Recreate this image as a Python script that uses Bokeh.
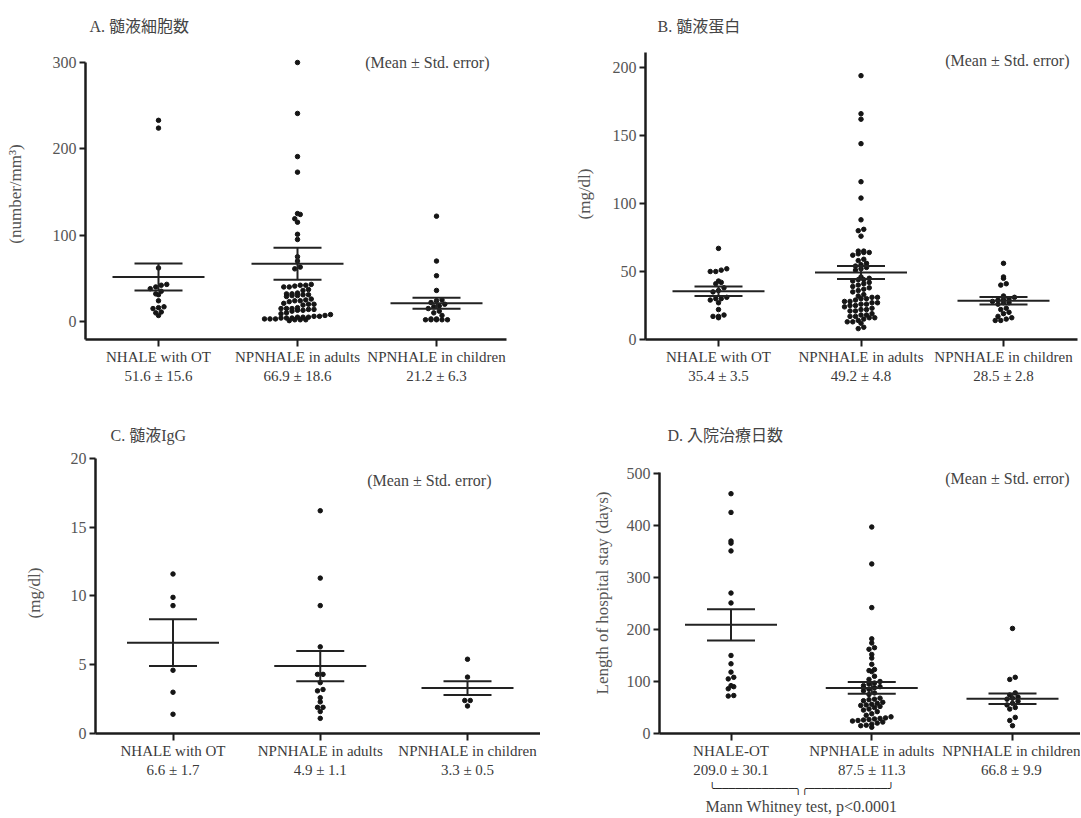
from bokeh.plotting import figure
from bokeh.models import FixedTicker, Label, LinearAxis, Range1d, Title
from bokeh.layouts import column, row
from bokeh.embed import file_html
from bokeh.resources import INLINE

# ---------------- data ----------------
groups_ABC = ["NHALE with OT", "NPNHALE in adults", "NPNHALE in children"]
groups_D = ["NHALE-OT", "NPNHALE in adults", "NPNHALE in children"]

A_title = "A. 髄液細胞数"
A_ylabel = "(number/mm³)"
A_ticks = [0, 100, 200, 300]
A_mean = [51.6, 66.9, 21.2]
A_se = [15.6, 18.6, 6.3]
A_ot = [233, 224, 62, 43, 42, 40, 38, 35, 32, 31, 24, 17, 16, 15, 11, 10, 7]
A_adults = [300, 241, 191, 173, 125, 124, 119, 115, 101, 95, 75, 70, 63, 61,
            43, 42, 42, 41, 40, 40, 37, 36, 33, 32, 32, 31, 31, 30, 30, 29,
            26, 25, 24, 24, 23, 21, 20, 20, 19, 16, 15, 15, 15, 14, 14, 13, 13, 12,
            10, 9, 8, 7, 6, 6, 5, 5, 5, 4, 4, 4, 3, 3, 3, 2, 2, 2, 1]
A_children = [122, 70, 53, 36, 25, 24, 22, 20, 18, 17, 15, 12, 10, 7, 3, 3, 2, 2, 2, 2, 2]

B_title = "B. 髄液蛋白"
B_ylabel = "(mg/dl)"
B_ticks = [0, 50, 100, 150, 200]
B_mean = [35.4, 49.2, 28.5]
B_se = [3.5, 4.8, 2.8]
B_ot = [67, 52, 51, 50, 50, 43, 42, 41, 38, 36, 35, 31, 30, 30, 29, 27, 22, 18, 17, 17, 16]
B_adults = [194, 166, 162, 144, 116, 104, 88, 81, 80, 76, 65, 65, 64, 64, 63, 62,
            59, 58, 56, 55, 54, 53, 52, 51, 46, 45, 44, 44, 43, 42, 41, 40, 39, 38,
            37, 36, 35, 33, 32, 31, 31, 30, 30, 29, 28, 28, 27, 27, 26, 26, 25, 25,
            24, 23, 22, 22, 21, 21, 19, 18, 18, 17, 17, 16, 16, 15, 14, 13, 13, 12, 9, 8]
B_children = [56, 46, 45, 41, 40, 32, 31, 30, 30, 29, 28, 27, 27, 26, 23, 22, 20, 19, 17, 16, 15, 14, 14]

C_title = "C. 髄液IgG"
C_ylabel = "(mg/dl)"
C_ticks = [0, 5, 10, 15, 20]
C_mean = [6.6, 4.9, 3.3]
C_se = [1.7, 1.1, 0.5]
C_ot = [11.6, 9.9, 9.3, 4.6, 3.0, 1.4]
C_adults = [16.2, 11.3, 9.3, 6.3, 4.3, 4.3, 3.7, 3.2, 3.1, 2.6, 2.3, 1.9, 1.9, 1.6, 1.1]
C_children = [5.4, 4.1, 2.4, 2.4, 2.0]

D_title = "D. 入院治療日数"
D_ylabel = "Length of hospital stay (days)"
D_ticks = [0, 100, 200, 300, 400, 500]
D_mean = [209.0, 87.5, 66.8]
D_se = [30.1, 11.3, 9.9]
D_ot = [461, 425, 370, 366, 351, 270, 251, 150, 134, 118, 108, 105, 92, 90, 86, 73, 72]
D_adults = [397, 326, 242, 182, 174, 165, 162, 152, 145, 133, 123, 121, 119, 110, 104,
            100, 97, 95, 92, 90, 88, 85, 82, 78, 75, 68, 66, 65, 63, 60, 58, 56, 55,
            54, 52, 50, 47, 45, 42, 38, 35, 32, 30, 29, 28, 27, 26, 25, 24, 22, 20,
            18, 16, 15, 12]
D_children = [202, 108, 104, 78, 74, 70, 68, 66, 62, 58, 55, 50, 47, 31, 25, 15]
D_test = "Mann Whitney test, p<0.0001"
D_test_groups = [1, 2]   # the groups compared by the test

note_text = "(Mean ± Std. error)"

# ---------------- styling / layout ----------------
SERIF = "Liberation Serif"
CJK = "Liberation Serif, Noto Sans CJK JP"
AXIS_COLOR = "#1c1c1c"
TEXT_COLOR = "#444444"
DOT_COLOR = "#151515"
BAR_COLOR = "#222222"


def swarm(values, center, sx, sy, row_px=5.0, gap_px=5.5):
    rows = {}
    for v in sorted(values):
        rows.setdefault(int(round(v * sy / row_px)), []).append(v)
    xs, ys = [], []
    for k in sorted(rows):
        vs = rows[k]
        n = len(vs)
        for i, v in enumerate(vs):
            xs.append(center + (i - (n - 1) / 2.0) * gap_px / sx)
            ys.append(v)
    return xs, ys


def make_panel(geo, names, means, ses, series, ticks, ylabel, title, lab_standoff):
    ox, oy, W, H = geo["fig"]
    L, R, T, B = geo["left"], geo["right"], geo["top"], geo["bottom"]
    (v0, q0), (v1, q1) = geo["ref"]
    c1, c3 = geo["cats"]
    s = (c3 - c1) / 2.0
    x0 = 1 - (c1 - L) / s
    x1 = 3 + (R - c3) / s
    sy = (q0 - q1) / float(v1 - v0)
    y_bot = v0 - (B - q0) / sy
    y_top = y_bot + (B - T) / sy
    y_axis_top = v0 + (q0 - geo["axis_top"]) / sy

    def X(px):
        return x0 + (px - L) / s

    def Y(py):
        return y_bot + (B - py) / sy

    p = figure(width=W, height=H, x_range=Range1d(x0, x1), y_range=Range1d(y_bot, y_top),
               output_backend="svg", toolbar_location=None, title=None,
               min_border_left=L - ox, min_border_right=ox + W - R,
               min_border_top=T - oy, min_border_bottom=oy + H - B)
    p.outline_line_color = None
    p.xgrid.visible = False
    p.ygrid.visible = False
    p.background_fill_color = "white"
    p.border_fill_color = "white"

    for ax in (p.xaxis[0], p.yaxis[0]):
        ax.axis_line_width = 2.5
        ax.axis_line_color = AXIS_COLOR
        ax.major_tick_line_color = AXIS_COLOR
        ax.major_tick_line_width = 2
        ax.major_tick_in = 0
        ax.minor_tick_line_color = None
    cats = [1, 2, 3]
    p.xaxis.ticker = FixedTicker(ticks=cats)
    overrides = {}
    for c, n, m, e in zip(cats, names, means, ses):
        lab = f"{n}\n{m:.1f} ± {e:.1f}"
        overrides[c] = lab
        overrides[str(c)] = lab
    p.xaxis.major_label_overrides = overrides
    p.xaxis.major_tick_out = 7
    p.xaxis.major_label_standoff = 2
    p.xaxis.major_label_text_font = SERIF
    p.xaxis.major_label_text_font_size = "15px"
    p.xaxis.major_label_text_color = "#3a3a3a"

    p.yaxis.bounds = (y_bot, y_axis_top)
    p.yaxis.ticker = FixedTicker(ticks=ticks)
    p.yaxis.major_tick_out = 6
    p.yaxis.major_label_standoff = 3
    p.yaxis.major_label_text_font = SERIF
    p.yaxis.major_label_text_font_size = "16px"
    p.yaxis.major_label_text_color = "#555555"
    p.yaxis.axis_label = ylabel
    p.yaxis.axis_label_text_font = SERIF
    p.yaxis.axis_label_text_font_size = "17px"
    p.yaxis.axis_label_text_font_style = "normal"
    p.yaxis.axis_label_text_color = "#555555"
    p.yaxis.axis_label_standoff = lab_standoff

    for c, vals in zip(cats, series):
        xs, ys = swarm(vals, c, s, sy)
        p.scatter(xs, ys, size=4.5, color=DOT_COLOR, line_color=DOT_COLOR)

    hm = 46.0 / s
    hc = 24.0 / s
    lo = [m - e for m, e in zip(means, ses)]
    hi = [m + e for m, e in zip(means, ses)]
    p.segment(x0=[c - hm for c in cats], y0=means, x1=[c + hm for c in cats], y1=means,
              line_width=2, line_color=BAR_COLOR)
    p.segment(x0=[c - hc for c in cats], y0=lo, x1=[c + hc for c in cats], y1=lo,
              line_width=2, line_color=BAR_COLOR)
    p.segment(x0=[c - hc for c in cats], y0=hi, x1=[c + hc for c in cats], y1=hi,
              line_width=2, line_color=BAR_COLOR)
    p.segment(x0=cats, y0=lo, x1=cats, y1=hi, line_width=2, line_color=BAR_COLOR)

    tx, _ = geo["title"]
    p.add_layout(Title(text=title, align="left", vertical_align="top", offset=tx - L,
                       standoff=geo["title_standoff"], text_font=CJK, text_font_size="16px",
                       text_font_style="normal", text_color=TEXT_COLOR), "above")
    nx, ny = geo["note"]
    p.add_layout(Label(x=X(nx), y=Y(ny), text=note_text, text_font=SERIF, text_font_size="16px",
                       text_color=TEXT_COLOR, text_align="right", text_baseline="middle"))
    return p, s


geoA = dict(fig=(0, 0, 540, 405), left=85, right=506, top=48, bottom=339,
            ref=((0, 321), (300, 62)), axis_top=62, cats=(158, 436),
            title=(89, 21), title_standoff=23, note=(489, 62))
geoB = dict(fig=(540, 0, 540, 405), left=645, right=1077, top=48, bottom=339,
            ref=((0, 339), (200, 67)), axis_top=52, cats=(718, 1003),
            title=(657, 22), title_standoff=23, note=(1069, 60))
geoC = dict(fig=(0, 405, 540, 412), left=95, right=540, top=452, bottom=734,
            ref=((0, 734), (20, 458)), axis_top=458, cats=(172.5, 467),
            title=(110, 435), title_standoff=14, note=(491, 480))
geoD = dict(fig=(540, 405, 540, 412), left=659, right=1080, top=452, bottom=734,
            ref=((0, 734), (500, 473)), axis_top=472, cats=(730.5, 1012),
            title=(667, 435), title_standoff=14, note=(1069, 478))

pA, _ = make_panel(geoA, groups_ABC, A_mean, A_se, [A_ot, A_adults, A_children],
                   A_ticks, A_ylabel, A_title, 25)
pB, _ = make_panel(geoB, groups_ABC, B_mean, B_se, [B_ot, B_adults, B_children],
                   B_ticks, B_ylabel, B_title, 16)
pC, _ = make_panel(geoC, groups_ABC, C_mean, C_se, [C_ot, C_adults, C_children],
                   C_ticks, C_ylabel, C_title, 24)
pD, sD = make_panel(geoD, groups_D, D_mean, D_se, [D_ot, D_adults, D_children],
                    D_ticks, D_ylabel, D_title, 12)

# brace + test note under the compared groups of panel D
mid = sum(D_test_groups) / 2.0
brace_px = (D_test_groups[1] - D_test_groups[0]) * sD + 25
brace_font = 11
n_dash = int(round((brace_px / (0.52 * brace_font) - 4) / 2))
brace_text = "╰" + "─" * n_dash + "╮╭" + "─" * n_dash + "╯"


def note_axis(text, font, size, standoff, color):
    return LinearAxis(ticker=FixedTicker(ticks=[mid]),
                      major_label_overrides={mid: text, str(mid): text},
                      axis_line_color=None, major_tick_line_color=None,
                      minor_tick_line_color=None, major_tick_out=0, major_tick_in=0,
                      major_label_standoff=standoff, major_label_text_font=font,
                      major_label_text_font_size=size, major_label_text_color=color)


pD.add_layout(note_axis(brace_text, "DejaVu Sans Mono", f"{brace_font}px", 1, "#222222"), "below")
pD.add_layout(note_axis(D_test, SERIF, "16px", 0, TEXT_COLOR), "below")

layout = column(row(pA, pB), row(pC, pD))
open("out.html", "w").write(file_html(layout, INLINE))
